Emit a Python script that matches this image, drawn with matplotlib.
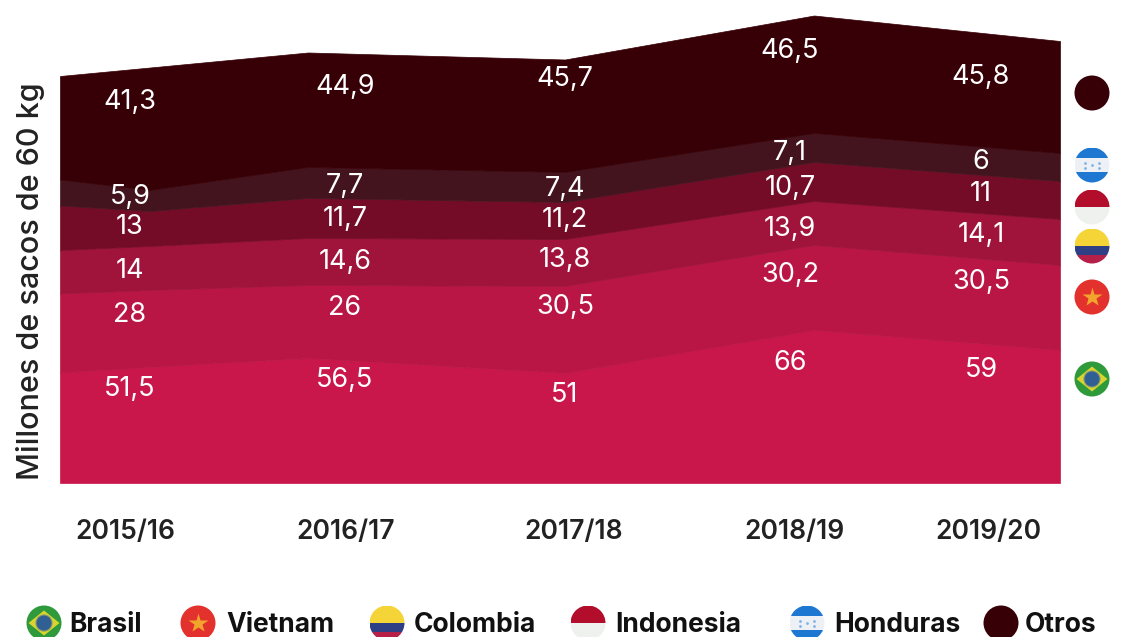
import matplotlib
matplotlib.use("Agg")
import matplotlib.pyplot as plt
from matplotlib.patches import Circle, Rectangle, Polygon

years = ["2015/16", "2016/17", "2017/18", "2018/19", "2019/20"]
countries = ["Brasil", "Vietnam", "Colombia", "Indonesia", "Honduras", "Otros"]

# printed values, the band heights below do not follow them exactly in the original
brasil = [51.5, 56.5, 51, 66, 59]
vietnam = [28, 26, 30.5, 30.2, 30.5]
colombia = [14, 14.6, 13.8, 13.9, 14.1]
indonesia = [13, 11.7, 11.2, 10.7, 11]
honduras = [5.9, 7.7, 7.4, 7.1, 6]
otros = [41.3, 44.9, 45.7, 46.5, 45.8]

# band heights as drawn
area_x = [0, 90, 248, 505, 754, 1000]
brasil_h = [110.5, 116, 125, 110, 153, 133]
vietnam_h = [79, 77, 73, 87, 85, 85]
colombia_h = [43.5, 44, 47, 47, 44, 46]
indonesia_h = [44.5, 35, 40, 37, 39, 38]
honduras_h = [26, 21, 31, 30, 29, 28]
otros_h = [103.5, 122.5, 114.5, 112.5, 117.5, 112]

colors = ["#C9174B", "#BA1645", "#A0133A", "#750C27", "#44141E", "#370006"]

fig = plt.figure(figsize=(11.23, 6.37), dpi=100)
plt.rcParams["font.family"] = "Inter"

# axes spans x 60..1060 and y 0..483 of the picture
ax = fig.add_axes([60 / 1123, 1 - 483 / 637, 1000 / 1123, 483 / 637])
bands = ax.stackplot(area_x, brasil_h, vietnam_h, colombia_h, indonesia_h, honduras_h, otros_h,
                     colors=colors)
# same colour edge hides the light seams between bands
for band, col in zip(bands, colors):
    band.set_edgecolor(col)
    band.set_linewidth(0.5)
ax.set_xlim(0, 1000)
ax.set_ylim(0, 483)
for s in ax.spines.values():
    s.set_visible(False)
ax.set_yticks([])
ax.set_xticks([65, 286, 514, 735, 928], years, fontsize=19, fontweight="semibold", color="#222222")
ax.tick_params(axis="x", length=0, pad=26)
ax.set_ylabel("Millones de sacos de 60 kg", fontsize=22, fontweight="medium", color="#222222")
ax.yaxis.set_label_coords(-15 / 1000, 0.417)

# overlay in picture pixels for value labels and flags
ov = fig.add_axes([0, 0, 1, 1])
ov.set_xlim(0, 1123)
ov.set_ylim(637, 0)
ov.axis("off")

label_x = [130, 345, 565, 790, 981]
label_y = {
    "Brasil": [389, 380, 395, 363, 370],
    "Vietnam": [315, 308, 307, 275, 282],
    "Colombia": [271, 262, 260, 229, 235],
    "Indonesia": [227, 219, 220, 188, 194],
    "Honduras": [197, 186, 189, 153, 162],
    "Otros": [102, 87, 79, 51, 77],
}
series = dict(zip(countries, [brasil, vietnam, colombia, indonesia, honduras, otros]))
for name in countries:
    for x, y, v in zip(label_x, label_y[name], series[name]):
        ov.text(x, y, f"{v:g}".replace(".", ","), color="white", fontsize=19.5,
                ha="center", va="center")


def stripes(cx, cy, r, parts, clip):
    # parts: (top, bottom, colour) as fractions of the flag height
    for top, bottom, col in parts:
        p = Rectangle((cx - r, cy - r + 2 * r * top), 2 * r, 2 * r * (bottom - top), fc=col, ec="none")
        ov.add_patch(p)
        p.set_clip_path(clip)


def flag(cx, cy, kind, r=17.5):
    clip = Circle((cx, cy), r, transform=ov.transData)
    if kind == "Brasil":
        ov.add_patch(Circle((cx, cy), r, fc="#2E9A3C", ec="none"))
        ov.add_patch(Polygon([(cx - r + 2, cy), (cx, cy - r + 5), (cx + r - 2, cy), (cx, cy + r - 5)],
                             fc="#D9D52E", ec="none"))
        ov.add_patch(Circle((cx, cy), r * 0.46, fc="#2F5F93", ec="#8A9A70", lw=0.8))
    elif kind == "Vietnam":
        ov.add_patch(Circle((cx, cy), r, fc="#E3312D", ec="none"))
        ov.plot([cx], [cy], marker="*", ms=15, color="#F2A52C", mec="none")
    elif kind == "Colombia":
        stripes(cx, cy, r, [(0, 0.5, "#F4D437"), (0.5, 0.76, "#2F3F86"), (0.76, 1, "#B51F48")], clip)
    elif kind == "Indonesia":
        stripes(cx, cy, r, [(0, 0.5, "#B30D2C"), (0.5, 1, "#EEF1EE")], clip)
    elif kind == "Honduras":
        stripes(cx, cy, r, [(0, 0.3, "#1E78D2"), (0.3, 0.7, "#EDF1F6"), (0.7, 1, "#1E78D2")], clip)
        ov.plot([cx - 7, cx - 7, cx, cx + 7, cx + 7], [cy - 2.5, cy + 2.5, cy, cy - 2.5, cy + 2.5],
                ls="none", marker="o", ms=2, color="#7FB2E5", mec="none")
    else:
        ov.add_patch(Circle((cx, cy), r, fc="#370006", ec="none"))


# flags beside the area, top to bottom
side_x = 1092
side_y = [379, 297, 246, 207, 165, 93]
for name, y in zip(countries, side_y):
    flag(side_x, y, name)

# legend row along the bottom edge
legend_flag_x = [44, 198, 387, 588, 807, 1001]
legend_text_x = [69, 226, 414, 615, 834, 1025]
for name, fx, tx in zip(countries, legend_flag_x, legend_text_x):
    flag(fx, 623, name)
    ov.text(tx, 625, name, fontsize=19, fontweight="bold", color="#111111", ha="left", va="center")

ov.set_xlim(0, 1123)
ov.set_ylim(637, 0)
fig.savefig("out.png", dpi=100)
